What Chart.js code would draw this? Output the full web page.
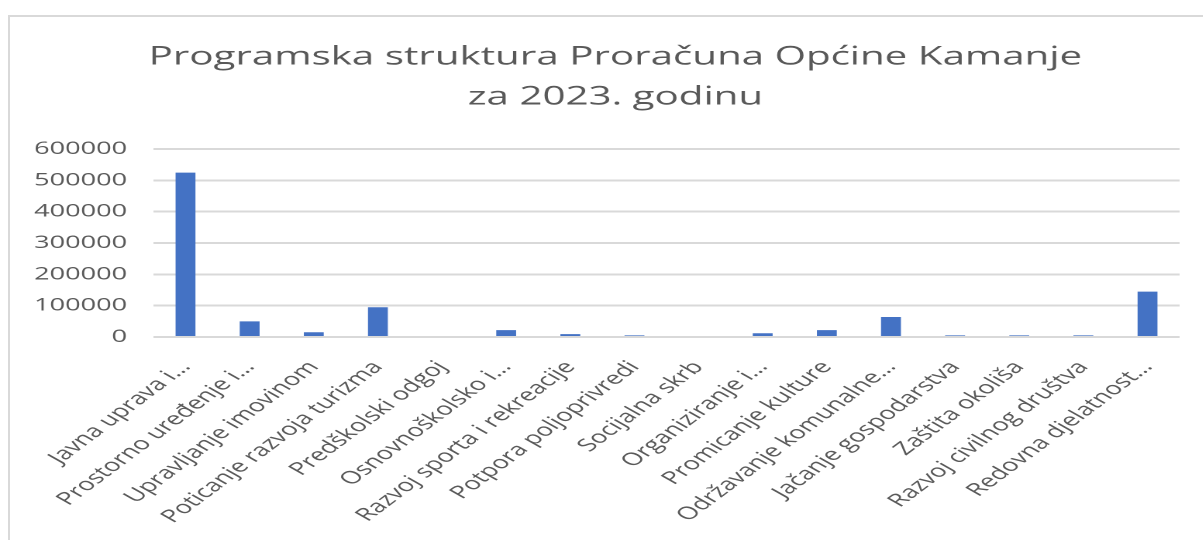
<!DOCTYPE html>
<html>
<head>
<meta charset="utf-8">
<script src="https://cdn.jsdelivr.net/npm/chart.js@4.4.0/dist/chart.umd.min.js"></script>
<style>
  html, body { margin: 0; padding: 0; background: #fff; overflow: hidden; width: 1203px; height: 540px; }
  #frame { position: absolute; left: 8px; top: 15px; width: 1400px; height: 700px; border-left: 2px solid #d9d9d9; border-top: 2px solid #d9d9d9; }
  #wrap { position: absolute; left: 0; top: 0; width: 794px; height: 540px; transform: scaleX(1.55); transform-origin: 0 0; }
</style>
</head>
<body>
<div id="frame"></div>
<div id="wrap"><canvas id="c" width="794" height="540"></canvas></div>
<script>
const titleLines = ["Programska struktura Proračuna Općine Kamanje", "za 2023. godinu"];
const categories = [
  "Javna uprava i…",
  "Prostorno uređenje i…",
  "Upravljanje imovinom",
  "Poticanje razvoja turizma",
  "Predškolski odgoj",
  "Osnovnoškolsko i…",
  "Razvoj sporta i rekreacije",
  "Potpora poljoprivredi",
  "Socijalna skrb",
  "Organiziranje i…",
  "Promicanje kulture",
  "Održavanje komunalne…",
  "Jačanje gospodarstva",
  "Zaštita okoliša",
  "Razvoj civilnog društva",
  "Redovna djelatnost…"
];
const values = [525000, 50000, 15000, 95000, 0, 22000, 9000, 5000, 0, 12000, 22000, 64000, 5000, 5000, 5000, 145000];
const yTicks = [0, 100000, 200000, 300000, 400000, 500000, 600000];

const FONT = "'Open Sans', 'DejaVu Sans', sans-serif";
const TEXT = "#595959";
const GRID = "#d9d9d9";

new Chart(document.getElementById('c'), {
  type: 'bar',
  data: {
    labels: categories,
    datasets: [{
      data: values,
      backgroundColor: '#4472C4',
      borderWidth: 0,
      categoryPercentage: 1.0,
      barPercentage: 0.31
    }]
  },
  options: {
    responsive: false,
    animation: false,
    devicePixelRatio: 2,
    layout: { padding: { left: 0, right: 0, top: 0, bottom: 0 } },
    plugins: {
      legend: { display: false },
      tooltip: { enabled: false },
      title: {
        display: true,
        text: titleLines,
        color: TEXT,
        font: { family: FONT, size: 26, weight: 'normal', lineHeight: 1.54 },
        padding: { top: 37, bottom: 32 }
      }
    },
    scales: {
      x: {
        grid: { display: false },
        border: { display: false },
        ticks: {
          color: TEXT,
          font: { family: FONT, size: 17.7 },
          minRotation: 49,
          maxRotation: 49,
          autoSkip: false,
          padding: 12
        },
        afterFit: (axis) => { axis.height = 203; }
      },
      y: {
        min: 0,
        max: 600000,
        afterBuildTicks: (axis) => { axis.ticks = yTicks.map(v => ({ value: v })); },
        grid: { color: GRID, lineWidth: 2, drawTicks: false },
        border: { display: false },
        ticks: {
          color: TEXT,
          font: { family: FONT, size: 17.5 },
          padding: 17,
          callback: (v) => String(v)
        },
        afterFit: (axis) => { axis.width = 99; }
      },
      yr: {
        position: 'right',
        min: 0,
        max: 600000,
        grid: { display: false, drawTicks: false },
        border: { display: false },
        ticks: { display: false },
        afterFit: (axis) => { axis.width = 33; }
      }
    }
  }
});
</script>
</body>
</html>
